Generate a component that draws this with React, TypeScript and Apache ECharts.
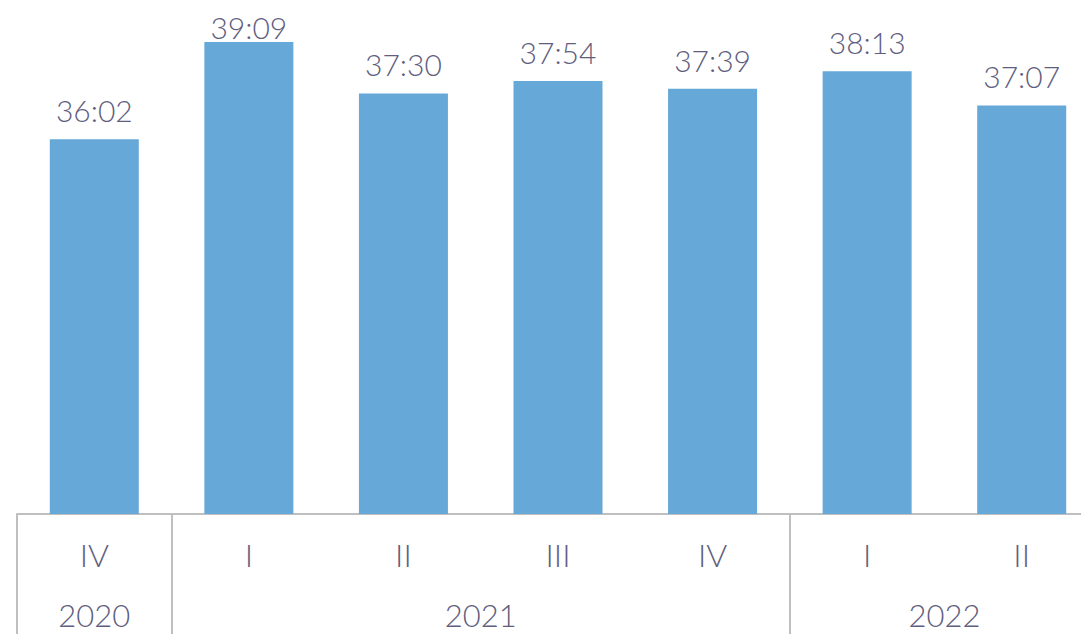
import React, { useEffect, useRef } from "react";
import * as echarts from "echarts";

const quarters = ["IV", "I", "II", "III", "IV", "I", "II"];
// durations in seconds (mm:ss)
const durations = [2162, 2349, 2250, 2274, 2259, 2293, 2227];
const yearSlots = ["", "2020", "", "", "", "", "2021", "", "", "", "", "", "2022", "", ""];
const yearBoundaries = [0, 2, 10, 14];

const TEXT = "#605e7e";
const GRID_LINE = "#bfbfbf";
const BAR = "#66a8d7";
const FONT = "Lato, 'Noto Sans', sans-serif";
const Y_MAX = 2430;

function fmt(sec: number): string {
  const m = Math.floor(sec / 60);
  const s = sec % 60;
  return `${m}:${s < 10 ? "0" : ""}${s}`;
}

export default function App() {
  const ref = useRef<HTMLDivElement>(null);
  useEffect(() => {
    if (!ref.current) return;
    const chart = echarts.init(ref.current, undefined, { renderer: "svg" });
    const maxVal = Math.max(...durations);
    chart.setOption({
      animation: false,
      grid: { left: 17, right: 0, top: 0, bottom: 120, containLabel: false },
      xAxis: [
        {
          type: "category",
          data: quarters,
          position: "bottom",
          axisLine: { show: true, lineStyle: { color: GRID_LINE, width: 2 } },
          axisTick: { show: false },
          axisLabel: {
            color: TEXT,
            fontFamily: FONT,
            fontWeight: 300,
            fontSize: 32,
            margin: 24,
            interval: 0,
          },
        },
        {
          type: "category",
          data: yearSlots,
          position: "bottom",
          boundaryGap: false,
          axisLine: { show: false },
          axisTick: {
            show: true,
            length: 120,
            interval: (i: number) => yearBoundaries.includes(i),
            lineStyle: { color: GRID_LINE, width: 2 },
          },
          axisLabel: {
            color: TEXT,
            fontFamily: FONT,
            fontWeight: 300,
            fontSize: 31,
            lineHeight: 28,
            margin: 87,
            interval: 0,
          },
        },
      ],
      yAxis: {
        type: "value",
        min: 1440,
        max: Y_MAX,
        show: false,
        splitLine: { show: false },
      },
      series: [
        {
          type: "bar",
          xAxisIndex: 0,
          data: durations.map((v) =>
            v === maxVal ? { value: v, label: { distance: 0 } } : v
          ),
          barWidth: 89,
          itemStyle: { color: BAR },
          label: {
            show: true,
            position: "top",
            distance: 14,
            color: TEXT,
            fontFamily: FONT,
            fontWeight: 300,
            fontSize: 30,
            formatter: (p: any) => fmt(p.value),
          },
        },
      ],
    });
    return () => chart.dispose();
  }, []);
  return (
    <div
      style={{
        position: "absolute",
        left: 0,
        top: 0,
        width: 1081,
        height: 634,
        overflow: "hidden",
      }}
    >
      <div ref={ref} style={{ width: 1102, height: 634 }} />
    </div>
  );
}
